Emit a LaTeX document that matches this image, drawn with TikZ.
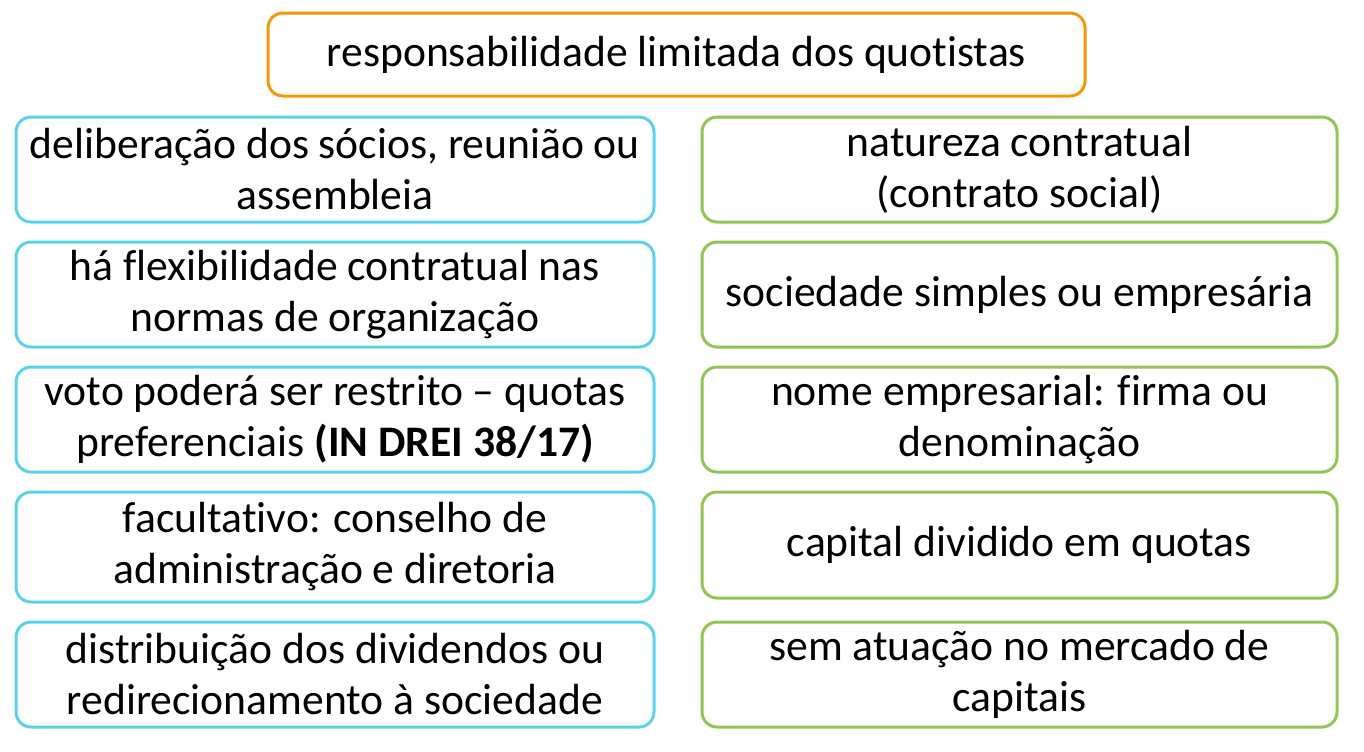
\documentclass[tikz,border=0pt]{standalone}
\usepackage{fontspec}
\setmainfont{Carlito}[Ligatures=NoCommon]
\definecolor{ltdorange}{RGB}{242,152,10}
\definecolor{ltdcyan}{RGB}{92,210,232}
\definecolor{ltdgreen}{RGB}{146,196,86}
\usetikzlibrary{positioning}

\begin{document}
\begin{tikzpicture}[
  ltdbox/.style={draw,line width=1.5pt,rounded corners=7.5pt,fill=white,
    align=center,inner sep=2pt,font=\fontsize{21.8}{25.5}\selectfont},
  ltdleft/.style={ltdbox,draw=ltdcyan,minimum width=319pt,minimum height=52.5pt},
  ltdright/.style={ltdbox,draw=ltdgreen,minimum width=317.5pt,minimum height=52.5pt}
]
  \useasboundingbox (0,0) rectangle (682pt,-375.5pt);
  % Header: limited liability
  \node[ltdbox,draw=ltdorange,minimum width=408.5pt,minimum height=41.5pt] (top) at (338.25pt,-27.25pt)
    {responsabilidade limitada dos quotistas};
  % Row 1
  \node[ltdleft] (l1) at (167.5pt,-84.75pt) {deliberação dos sócios, reunião ou\\assembleia};
  \node[ltdright] (r1) at (509.75pt,-84.75pt) {natureza contratual\\(contrato social)};
  % Row 2
  \node[ltdleft] (l2) at (167.5pt,-147.25pt) {há flexibilidade contratual nas\\normas de organização};
  \node[ltdright] (r2) at (509.75pt,-147.25pt) {sociedade simples ou empresária};
  % Row 3
  \node[ltdleft] (l3) at (167.5pt,-209.75pt) {voto poderá ser restrito -- quotas\\preferenciais \textbf{(IN DREI 38/17)}};
  \node[ltdright] (r3) at (509.75pt,-209.75pt) {nome empresarial: firma ou\\denominação};
  % Row 4
  \node[ltdleft,minimum height=55pt] (l4) at (167.5pt,-273.5pt) {facultativo: conselho de\\administração e diretoria};
  \node[ltdright,minimum height=53pt] (r4) at (509.75pt,-272.5pt) {capital dividido em quotas};
  % Row 5
  \node[ltdleft] (l5) at (167.5pt,-337.25pt) {distribuição dos dividendos ou\\redirecionamento à sociedade};
  \node[ltdright] (r5) at (509.75pt,-337.25pt) {sem atuação no mercado de\\capitais};
\end{tikzpicture}
\end{document}
